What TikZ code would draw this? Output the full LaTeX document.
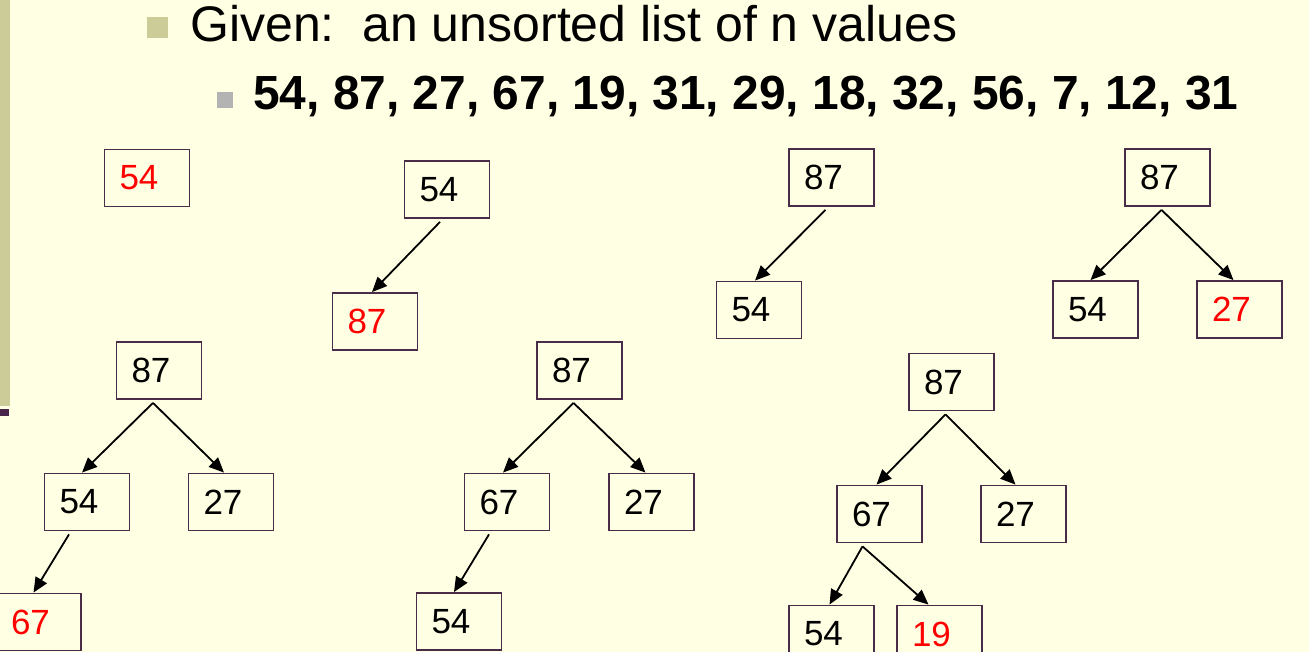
\documentclass[tikz,border=0pt]{standalone}
\usepackage{fontspec}
\setmainfont{Liberation Sans}
\usetikzlibrary{arrows.meta}
\definecolor{slidebg}{HTML}{FFFFE3}
\definecolor{sidebar}{HTML}{CCCC99}
\definecolor{barpurple}{HTML}{4A2448}
\definecolor{boxline}{HTML}{4A2C48}
\definecolor{bulletgray}{HTML}{B3B3B3}
\tikzset{
	heapbox/.style={draw=boxline, line width=1.8pt, text width=55pt, inner xsep=15pt, inner ysep=0pt, minimum height=57pt, align=left, font=\fontsize{35pt}{42pt}\selectfont},
	newkey/.style={heapbox, text=red},
	arr/.style={-{Triangle[length=15pt,width=13pt]}, line width=1.8pt}
}
\begin{document}
\begin{tikzpicture}[x=1pt,y=-1pt]
	\useasboundingbox (0,0) rectangle (1309,652);
	\fill[slidebg] (0,0) rectangle (1309,652);
	\fill[sidebar] (0,0) rectangle (10,406);
	\fill[barpurple] (0,409) rectangle (9,416);
	% heading
	\fill[sidebar] (147,17) rectangle (168,38);
	\node[anchor=base west, inner sep=0pt, font=\fontsize{50pt}{60pt}\selectfont] (given) at (190,42) {Given:\ \ an unsorted list of n values};
	\fill[bulletgray] (217,92) rectangle (233,108);
	\node[anchor=base west, inner sep=0pt, font=\fontsize{47.9pt}{58pt}\selectfont\bfseries] (list) at (253,110) {54, 87, 27, 67, 19, 31, 29, 18, 32, 56, 7, 12, 31};
	% step 1
	\node[newkey] (a1) at (147,178) {54};
	% step 2
	\node[heapbox] (b1) at (447,189.5) {54};
	\node[newkey] (b2) at (375,321.5) {87};
	\draw[arr] ([xshift=-7pt,yshift=-3pt]b1.south) -- ([xshift=-3pt]b2.north);
	% step 3
	\node[heapbox] (c1) at (831.5,177.5) {87};
	\node[heapbox] (c2) at (759,310) {54};
	\draw[arr] ([xshift=-6pt,yshift=-3pt]c1.south) -- ([xshift=-4pt]c2.north);
	% step 4
	\node[heapbox] (d1) at (1167.5,177.5) {87};
	\node[heapbox] (d2) at (1095.5,309.5) {54};
	\node[newkey] (d3) at (1239.5,309.5) {27};
	\draw[arr] ([xshift=-6pt,yshift=-3pt]d1.south) -- ([xshift=-5pt]d2.north);
	\draw[arr] ([xshift=-6pt,yshift=-3pt]d1.south) -- ([xshift=-6pt]d3.north);
	% step 5
	\node[heapbox] (e1) at (159,370.5) {87};
	\node[heapbox] (e2) at (87,502) {54};
	\node[heapbox] (e3) at (231,502) {27};
	\node[newkey] (e4) at (38.5,622) {67};
	\draw[arr] ([xshift=-6pt,yshift=-3pt]e1.south) -- ([xshift=-5pt]e2.north);
	\draw[arr] ([xshift=-6pt,yshift=-3pt]e1.south) -- ([xshift=-7pt]e3.north);
	\draw[arr] ([xshift=-18pt,yshift=-3pt]e2.south) -- ([xshift=-5pt]e4.north);
	% step 6
	\node[heapbox] (f1) at (579.5,370.5) {87};
	\node[heapbox] (f2) at (507,502) {67};
	\node[heapbox] (f3) at (651.5,502) {27};
	\node[heapbox] (f4) at (459,621.5) {54};
	\draw[arr] ([xshift=-6pt,yshift=-3pt]f1.south) -- ([xshift=-4pt]f2.north);
	\draw[arr] ([xshift=-6pt,yshift=-3pt]f1.south) -- ([xshift=-6pt]f3.north);
	\draw[arr] ([xshift=-18pt,yshift=-3pt]f2.south) -- ([xshift=-5pt]f4.north);
	% step 7
	\node[heapbox] (g1) at (951.5,382) {87};
	\node[heapbox] (g2) at (879.5,514) {67};
	\node[heapbox] (g3) at (1023.5,514) {27};
	\node[heapbox] (g4) at (831.5,634) {54};
	\node[newkey] (g5) at (939.5,634) {19};
	\draw[arr] ([xshift=-6pt,yshift=-3pt]g1.south) -- ([xshift=-3pt]g2.north);
	\draw[arr] ([xshift=-6pt,yshift=-3pt]g1.south) -- ([xshift=-8pt]g3.north);
	\draw[arr] ([xshift=-17pt,yshift=-3pt]g2.south) -- ([xshift=-2pt]g4.north);
	\draw[arr] ([xshift=-17pt,yshift=-3pt]g2.south) -- ([xshift=-11pt]g5.north);
\end{tikzpicture}
\end{document}
